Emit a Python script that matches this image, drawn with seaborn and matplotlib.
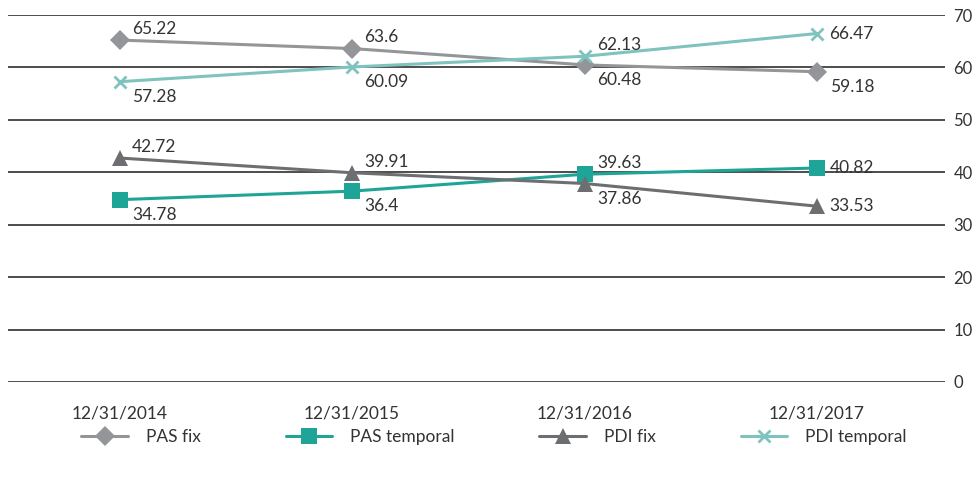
import matplotlib
matplotlib.use("Agg")
import matplotlib.pyplot as plt
import seaborn as sns
import pandas as pd

dates = ["12/31/2014", "12/31/2015", "12/31/2016", "12/31/2017"]
pas_fix = [65.22, 63.6, 60.48, 59.18]
pas_temporal = [34.78, 36.4, 39.63, 40.82]
pdi_fix = [42.72, 39.91, 37.86, 33.53]
pdi_temporal = [57.28, 60.09, 62.13, 66.47]

series_names = ["PAS fix", "PAS temporal", "PDI fix", "PDI temporal"]
series_values = [pas_fix, pas_temporal, pdi_fix, pdi_temporal]

# label placement per point: 'a' above-right, 'b' below-right, 'r' right
label_pos = {
    "PAS fix": ["a", "a", "b", "b"],
    "PAS temporal": ["b", "b", "a", "r"],
    "PDI fix": ["a", "a", "b", "r"],
    "PDI temporal": ["b", "b", "a", "r"],
}

styles = {
    "PAS fix": dict(color="#939598", marker="D", ms=10, mew=0),
    "PAS temporal": dict(color="#1fa597", marker="s", ms=11, mew=0),
    "PDI fix": dict(color="#6d6e71", marker="^", ms=11.5, mew=0),
    "PDI temporal": dict(color="#7fc3be", marker="x", ms=9, mew=2),
}

rows = []
for name, vals in zip(series_names, series_values):
    for i, (d, v) in enumerate(zip(dates, vals)):
        rows.append({"series": name, "pos": i, "date": d, "value": v})
df = pd.DataFrame(rows)

sns.set_theme(style="white")
plt.rcParams["font.family"] = ["Lato", "DejaVu Sans"]
text_color = "#333333"

fig = plt.figure(figsize=(9.78, 4.79), dpi=100)
ax = fig.add_axes([8 / 978, 1 - 382 / 479, (945 - 8) / 978, (382 - 15) / 479])

for name in series_names:
    st = styles[name]
    sub = df[df["series"] == name]
    sns.lineplot(data=sub, x="pos", y="value", ax=ax, color=st["color"],
                 linewidth=2.2, marker=st["marker"], markersize=st["ms"],
                 markeredgewidth=st["mew"], markeredgecolor=st["color"],
                 label=name, zorder=3)
    for i, (x, v) in enumerate(zip(sub["pos"], sub["value"])):
        p = label_pos[name][i]
        off = {"a": (9, 8), "b": (9, -11), "r": (9, 0)}[p]
        ax.annotate(f"{v:g}", (x, v), xytext=off, textcoords="offset points",
                    ha="left", va="center", fontsize=12.5, color=text_color,
                    zorder=5)

ax.set_xlim(-0.48, 3.55)
ax.set_ylim(0, 70)
ax.set_yticks(range(0, 71, 10))
ax.set_xticks(range(len(dates)))
ax.set_xticklabels(dates)
ax.yaxis.tick_right()
ax.tick_params(axis="y", length=0, pad=6, labelsize=12, labelcolor=text_color)
ax.tick_params(axis="x", length=0, pad=17, labelsize=12.5, labelcolor=text_color)
ax.grid(axis="y", color="#4d4d4d", linewidth=1.4)
ax.grid(axis="x", visible=False)
ax.set_axisbelow(True)
for s in ax.spines.values():
    s.set_visible(False)
ax.set_xlabel("")
ax.set_ylabel("")

handles, labels = ax.get_legend_handles_labels()
ax.get_legend().remove()
fig.legend(handles, labels, loc="center", bbox_to_anchor=(0.505, 1 - 437 / 479),
           ncol=4, frameon=False, fontsize=12.5, handlelength=2.7,
           columnspacing=4.9, handletextpad=1.0, labelcolor=text_color)

fig.savefig("out.png", dpi=100)
